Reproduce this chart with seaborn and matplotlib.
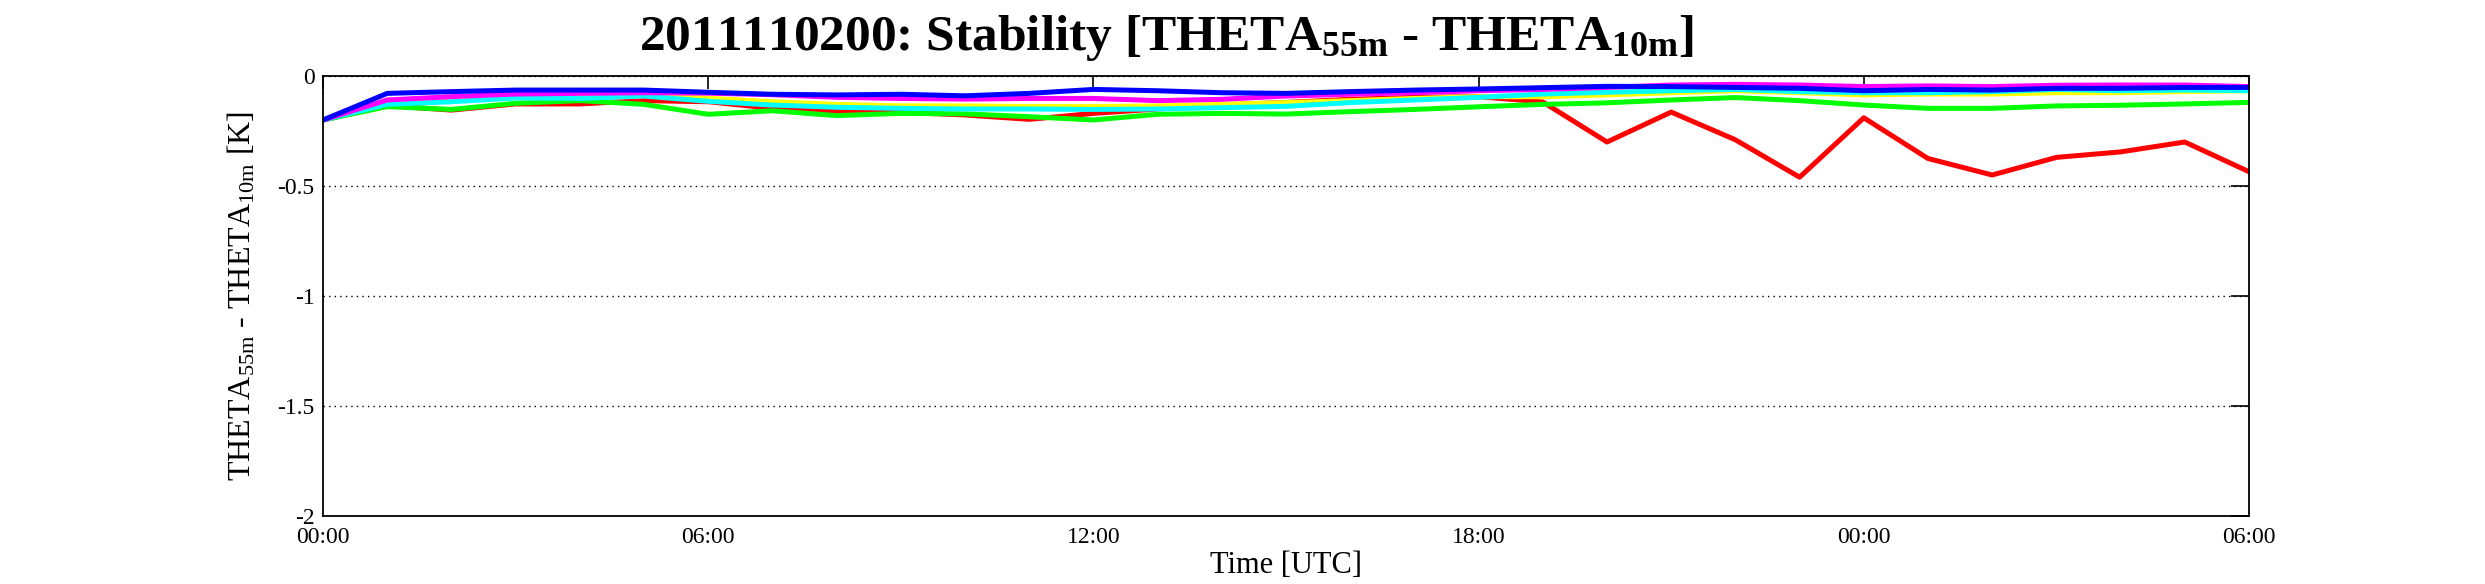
import numpy as np
import pandas as pd
import matplotlib
matplotlib.use("Agg")
import matplotlib.pyplot as plt
import seaborn as sns

hours = list(range(31))
tick_hours = [0, 6, 12, 18, 24, 30]
tick_labels = ["00:00", "06:00", "12:00", "18:00", "00:00", "06:00"]
ytick_vals = [0, -0.5, -1, -1.5, -2]
ytick_labels = ["0", "-0.5", "-1", "-1.5", "-2"]

red = [-0.20, -0.135, -0.155, -0.127, -0.127, -0.112, -0.117, -0.147, -0.162, -0.165,
       -0.177, -0.197, -0.170, -0.150, -0.132, -0.120, -0.106, -0.097, -0.094, -0.118,
       -0.300, -0.164, -0.290, -0.460, -0.190, -0.375, -0.450, -0.370, -0.345, -0.300, -0.435]
yellow = [-0.20, -0.120, -0.105, -0.091, -0.089, -0.082, -0.101, -0.117, -0.129, -0.136,
          -0.136, -0.139, -0.139, -0.136, -0.129, -0.121, -0.112, -0.102, -0.094, -0.094,
          -0.086, -0.076, -0.067, -0.076, -0.086, -0.082, -0.082, -0.076, -0.076, -0.071, -0.067]
green = [-0.20, -0.139, -0.152, -0.124, -0.112, -0.129, -0.174, -0.158, -0.180, -0.170,
         -0.172, -0.185, -0.200, -0.174, -0.170, -0.173, -0.162, -0.152, -0.140, -0.129,
         -0.122, -0.109, -0.098, -0.112, -0.132, -0.147, -0.147, -0.136, -0.133, -0.127, -0.120]
cyan = [-0.20, -0.129, -0.117, -0.100, -0.102, -0.091, -0.115, -0.132, -0.142, -0.147,
        -0.150, -0.150, -0.152, -0.150, -0.144, -0.138, -0.121, -0.109, -0.097, -0.082,
        -0.074, -0.067, -0.061, -0.071, -0.076, -0.076, -0.071, -0.061, -0.067, -0.064, -0.067]
magenta = [-0.20, -0.109, -0.094, -0.082, -0.079, -0.076, -0.078, -0.085, -0.097, -0.102,
           -0.105, -0.102, -0.102, -0.112, -0.106, -0.091, -0.083, -0.076, -0.067, -0.061,
           -0.052, -0.041, -0.038, -0.041, -0.048, -0.045, -0.048, -0.042, -0.041, -0.041, -0.048]
blue = [-0.20, -0.079, -0.071, -0.064, -0.064, -0.064, -0.074, -0.083, -0.086, -0.083,
        -0.090, -0.079, -0.061, -0.067, -0.076, -0.079, -0.071, -0.064, -0.059, -0.053,
        -0.047, -0.048, -0.052, -0.056, -0.067, -0.061, -0.064, -0.056, -0.056, -0.052, -0.052]

series = {"red": red, "yellow": yellow, "green": green, "cyan": cyan,
          "magenta": magenta, "blue": blue}
palette = {"yellow": "#ffff00", "green": "#00ff00", "red": "#ff0000",
           "cyan": "#00ffff", "magenta": "#ff00ff", "blue": "#0000ff"}

df = pd.concat([pd.DataFrame({"hour": hours, "value": v, "series": k})
                for k, v in series.items()], ignore_index=True)

sns.set_style("white")
plt.rcParams["font.family"] = ["Liberation Serif", "DejaVu Serif"]
plt.rcParams["mathtext.fontset"] = "custom"
plt.rcParams["mathtext.rm"] = "Liberation Serif"
plt.rcParams["mathtext.bf"] = "Liberation Serif:bold"
plt.rcParams["mathtext.default"] = "regular"
plt.rcParams["text.color"] = "black"
plt.rcParams["axes.labelcolor"] = "black"
plt.rcParams["xtick.color"] = "black"
plt.rcParams["ytick.color"] = "black"

fig = plt.figure(figsize=(24.85, 5.84), dpi=100)
ax = fig.add_axes([323 / 2485, 1 - 516 / 584, (2249 - 323) / 2485, (516 - 76) / 584])

sns.lineplot(data=df, x="hour", y="value", hue="series", palette=palette,
             hue_order=list(series.keys()), linewidth=3.6, legend=False, ax=ax)

ax.set_xlim(0, 30)
ax.set_ylim(-2, 0)
ax.set_xticks(tick_hours)
ax.set_xticklabels(tick_labels)
ax.set_yticks(ytick_vals)
ax.set_yticklabels(ytick_labels)
ax.tick_params(axis="both", direction="in", top=True, right=True, labelsize=17,
               color="black", labelcolor="black", width=1.2, pad=6)
ax.tick_params(axis="x", pad=8)
ax.tick_params(axis="y", length=13)
ax.tick_params(axis="x", length=9)
for s in ax.spines.values():
    s.set_color("black")
    s.set_linewidth(1.3)
    s.set_visible(True)
ax.yaxis.grid(True, linestyle=(0, (1, 3)), color="black", linewidth=1.0)
ax.xaxis.grid(False)

ax.set_xlabel("Time [UTC]", fontsize=22, labelpad=2, color="black")
ax.set_ylabel("THETA$_{55m}$ - THETA$_{10m}$ [K]", fontsize=23, color="black")
ax.yaxis.set_label_coords(-0.034, 0.5)

fig.text(1167 / 2485, 1 - 50 / 584,
         "2011110200: Stability [THETA$_{55m}$ - THETA$_{10m}$]",
         ha="center", va="baseline", fontsize=37, fontweight="bold", color="black")

fig.savefig("out.png", dpi=100, facecolor="white")
